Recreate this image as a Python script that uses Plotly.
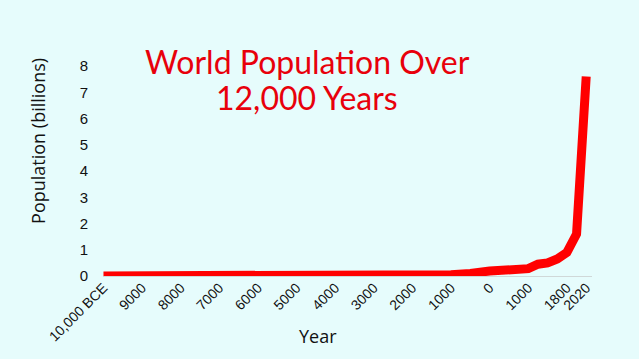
import plotly.graph_objects as go

# Category slots along the x axis (years; negative = BCE)
category_years = [
    -10000, -9750, -9500, -9250, -9000, -8750, -8500, -8250, -8000, -7750,
    -7500, -7250, -7000, -6750, -6500, -6250, -6000, -5750, -5500, -5250,
    -5000, -4750, -4500, -4250, -4000, -3750, -3500, -3250, -3000, -2750,
    -2500, -2250, -2000, -1750, -1500, -1250, -1000, -750, -500, -250,
    0, 250, 500, 750, 1000, 1500, 1600, 1700, 1800, 1900, 2020,
]

# Data points
years = [-10000, -9000, -8000, -7000, -6000, -5000, -4000, -3000, -2000,
         -1000, -500, 0, 1000, 1500, 1600, 1700, 1800, 1900, 2020]
population_billions = [0.004, 0.005, 0.005, 0.005, 0.005, 0.005, 0.007, 0.014,
                       0.027, 0.05, 0.1, 0.19, 0.28, 0.45, 0.5, 0.65, 0.9, 1.6, 7.6]

# Tick labels
tick_years = [-10000, -9000, -8000, -7000, -6000, -5000, -4000, -3000, -2000,
              -1000, 0, 1000, 1800, 2020]
tick_labels = ["10,000 BCE", "9000", "8000", "7000", "6000", "5000", "4000",
               "3000", "2000", "1000", "0", "1000", "1800", "2020"]

y_ticks = [0, 1, 2, 3, 4, 5, 6, 7, 8]

title_lines = ["World Population Over", "12,000 Years"]

cats = [str(y) for y in category_years]

fig = go.Figure()
fig.add_trace(go.Scatter(
    x=[str(y) for y in years],
    y=population_billions,
    mode="lines",
    line=dict(color="#FF0000", width=9),
    hoverinfo="skip",
    showlegend=False,
))

bg = "#E6FCFC"
title_font = dict(family="Lato, Open Sans, sans-serif", size=32, color="#E8000B")
fig.update_layout(
    width=639, height=359,
    paper_bgcolor=bg, plot_bgcolor=bg,
    margin=dict(l=103, r=47, t=66, b=83),
    font=dict(family="Liberation Sans, Arial, sans-serif", color="#222222"),
    xaxis=dict(
        type="category",
        categoryorder="array",
        categoryarray=cats,
        range=[-0.05, 50.6],
        tickmode="array",
        tickvals=[str(y) for y in tick_years],
        ticktext=tick_labels,
        tickangle=-45,
        tickfont=dict(size=14, color="#111111"),
        showgrid=False, showline=False, zeroline=False,
        ticks="",
    ),
    yaxis=dict(
        range=[0, 8],
        tickmode="array",
        tickvals=y_ticks,
        tickfont=dict(size=15, color="#111111"),
        showgrid=False, showline=False,
        zeroline=True, zerolinecolor="#D0D8D8", zerolinewidth=1,
        ticks="", ticklabelstandoff=14,
    ),
    annotations=[
        dict(text=title_lines[0],
             xref="paper", yref="paper", x=0.418, y=1.02,
             xanchor="center", yanchor="middle", showarrow=False,
             font=title_font),
        dict(text=title_lines[1],
             xref="paper", yref="paper", x=0.418, y=0.848,
             xanchor="center", yanchor="middle", showarrow=False,
             font=title_font),
        dict(text="Population (billions)",
             xref="paper", yref="paper", x=-0.133, y=0.643,
             xanchor="center", yanchor="middle", textangle=-90, showarrow=False,
             font=dict(family="Open Sans, sans-serif", size=18, color="#111111")),
        dict(text="Year",
             xref="paper", yref="paper", x=0.44, y=-0.22,
             xanchor="center", yanchor="top", showarrow=False,
             font=dict(family="Open Sans, sans-serif", size=18, color="#111111")),
    ],
)

fig.write_html("out.html")
